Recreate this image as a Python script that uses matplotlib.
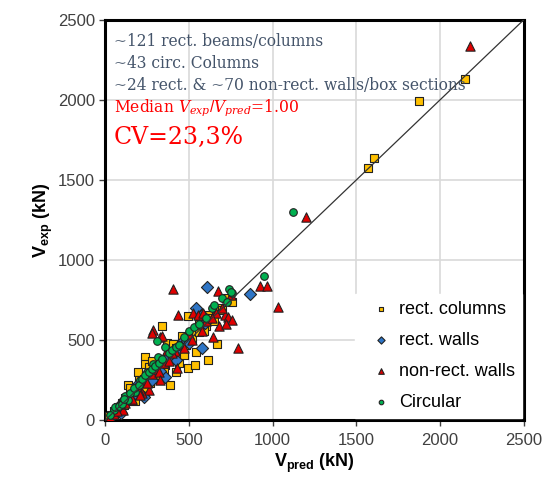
import matplotlib.pyplot as plt

plt.rcParams['font.family'] = ['Liberation Sans', 'DejaVu Sans']
plt.rcParams['mathtext.fontset'] = 'custom'
plt.rcParams['mathtext.rm'] = 'Liberation Sans'
plt.rcParams['mathtext.bf'] = 'Liberation Sans:bold'
plt.rcParams['mathtext.it'] = 'DejaVu Serif:italic'

# rect. columns (squares)
col_x = [2150, 1877, 1603, 1568, 756, 617, 493, 666, 543, 617, 338, 235, 239, 195, 199, 139, 388,
         497, 537, 458, 368, 408, 20, 35, 50, 60, 75, 90, 100, 110, 120, 130, 150, 160, 170, 180,
         200, 210, 220, 240, 250, 260, 280, 290, 300, 310, 330, 340, 350, 360, 380, 400, 420, 440,
         460, 480, 500, 520, 540, 560, 580, 600, 620, 650, 680, 700, 720, 260, 280, 300, 320, 240,
         180, 150, 420, 440, 470, 350, 230, 270, 310, 560, 590]
col_y = [2131, 1994, 1637, 1575, 740, 660, 650, 475, 427, 375, 590, 396, 354, 302, 250, 219, 219,
         327, 344, 525, 479, 475, 25, 30, 60, 45, 80, 70, 110, 95, 140, 120, 160, 145, 190, 165,
         215, 190, 240, 225, 270, 245, 300, 275, 330, 290, 350, 320, 380, 345, 410, 390, 450, 430,
         480, 470, 520, 510, 560, 550, 600, 590, 640, 620, 700, 690, 760, 330, 370, 260, 280, 180,
         120, 200, 300, 360, 410, 300, 260, 230, 340, 600, 560]

# rect. walls (diamonds)
wall_x = [607, 865, 543, 577, 597, 577, 424, 358, 94, 229, 60, 80, 120, 150, 180, 200, 250, 280,
          300, 330, 380, 430, 470, 500]
wall_y = [829, 787, 698, 656, 606, 448, 375, 267, 46, 146, 50, 90, 130, 140, 170, 230, 260, 250,
          300, 310, 400, 440, 500, 480]

# non-rect. walls (triangles)
nr_x = [2179, 1199, 925, 965, 1030, 656, 716, 734, 756, 680, 722, 408, 676, 434, 527, 557, 587,
        662, 646, 795, 288, 328, 338, 279, 368, 418, 428, 259, 219, 159, 109, 30, 50, 70, 90, 120,
        140, 180, 200, 230, 250, 280, 300, 320, 350, 380, 400, 450, 470, 500, 520, 560, 600, 640,
        700, 750, 580, 160, 210, 330]
nr_y = [2337, 1271, 837, 837, 708, 677, 656, 646, 625, 588, 600, 818, 808, 660, 670, 656, 667,
        671, 521, 448, 562, 521, 525, 546, 437, 433, 323, 187, 167, 125, 62, 20, 40, 60, 100, 110,
        150, 200, 180, 250, 230, 290, 320, 300, 360, 370, 420, 470, 450, 540, 500, 600, 620, 640,
        700, 780, 560, 130, 160, 250]

# Circular (circles)
circ_x = [1120, 951, 741, 756, 312, 358, 318, 288, 249, 209, 179, 139, 50, 30, 60, 80, 100, 120,
          150, 170, 200, 220, 240, 260, 280, 300, 320, 340, 380, 400, 420, 440, 470, 500, 530, 560,
          600, 640, 700, 750, 730, 650, 110]
circ_y = [1298, 900, 818, 793, 494, 458, 396, 354, 302, 250, 177, 125, 62, 30, 80, 90, 100, 150,
          170, 200, 220, 260, 280, 300, 320, 340, 360, 380, 420, 440, 460, 470, 520, 560, 580, 600,
          640, 700, 760, 800, 740, 720, 130]

fig = plt.figure(figsize=(5.45, 4.83), dpi=100)
ax = fig.add_axes([0.193, 0.130, 0.768, 0.829])

ax.scatter(col_x, col_y, marker='s', s=30, c='#FFC000', edgecolors='#222222', linewidths=0.8,
           label='rect. columns', zorder=3)
ax.scatter(wall_x, wall_y, marker='D', s=38, c='#2E75C6', edgecolors='#222222', linewidths=0.8,
           label='rect. walls', zorder=3)
ax.scatter(nr_x, nr_y, marker='^', s=45, c='#E00000', edgecolors='#222222', linewidths=0.8,
           label='non-rect. walls', zorder=3)
ax.scatter(circ_x, circ_y, marker='o', s=30, c='#00B050', edgecolors='#222222', linewidths=0.8,
           label='Circular', zorder=3)

ax.plot([0, 2500], [0, 2500], color='#333333', lw=0.9, zorder=4)

ax.set_xlim(0, 2500)
ax.set_ylim(0, 2500)
ax.set_xticks(range(0, 2501, 500))
ax.set_yticks(range(0, 2501, 500))
ax.grid(True, color='#D9D9D9', lw=1.2, zorder=0)
ax.set_axisbelow(True)
for sp in ax.spines.values():
    sp.set_linewidth(2.2)
    sp.set_color('black')
ax.tick_params(labelsize=12, colors='#404040', length=4, width=1, labelcolor='#404040')
ax.tick_params(axis='x', pad=5)

ax.set_xlabel(r'$\mathbf{V_{pred}}$ (kN)', fontsize=13, fontweight='bold', labelpad=3)
ax.set_ylabel(r'$\mathbf{V_{exp}}$ (kN)', fontsize=13, fontweight='bold', labelpad=2)

leg = ax.legend(loc='lower right', frameon=True, edgecolor='white', framealpha=1,
                fontsize=13, markerscale=0.6, handletextpad=0.0, labelspacing=0.78,
                borderaxespad=0.1, fancybox=False)
leg.set_zorder(5)

ser = ['DejaVu Serif']
ax.text(0.02, 0.935, '~121 rect. beams/columns', transform=ax.transAxes, fontsize=11.2,
        color='#44546A', family=ser, zorder=6)
ax.text(0.02, 0.88, '~43 circ. Columns', transform=ax.transAxes, fontsize=11.2,
        color='#44546A', family=ser, zorder=6)
ax.text(0.02, 0.825, '~24 rect. & ~70 non-rect. walls/box sections', transform=ax.transAxes,
        fontsize=11.2, color='#44546A', family=ser, zorder=6)
ax.text(0.02, 0.772, r'Median $V_{exp}/V_{pred}$=1.00', transform=ax.transAxes, fontsize=11.2,
        color='red', family=ser, zorder=6)
ax.text(0.02, 0.69, 'CV=23,3%', transform=ax.transAxes, fontsize=17,
        color='red', family=ser, zorder=6)

fig.savefig('out.png', dpi=100)
